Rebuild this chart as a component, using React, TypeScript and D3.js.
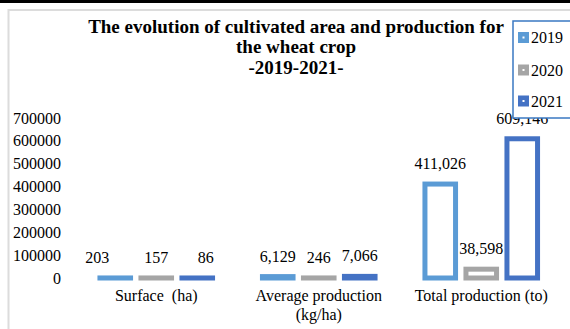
import React from "react";
import * as d3 from "d3";

const categories = ["Surface  (ha)", "Average production (kg/ha)", "Total production (to)"];
const categoryLines: string[][] = [["Surface  (ha)"], ["Average production", "(kg/ha)"], ["Total production (to)"]];
const seriesNames = ["2019", "2020", "2021"];
const values2019 = [203, 6129, 411026];
const values2020 = [157, 246, 38598];
const values2021 = [86, 7066, 609146];
const yTicks = [0, 100000, 200000, 300000, 400000, 500000, 600000, 700000];
const titleLines = ["The evolution of cultivated area and production for", "the wheat crop", "-2019-2021-"];

const colors = ["#5B9BD5", "#A5A5A5", "#4472C4"];
const FONT = "Liberation Serif, Times New Roman, DejaVu Serif, serif";

export default function App() {
  const W = 570, H = 329;
  const seriesValues = [values2019, values2020, values2021];
  const y = d3.scaleLinear().domain([0, 700000]).range([278, 118]);
  const x0 = d3.scaleBand<string>().domain(categories).range([75, 562.5]);
  const bw = x0.bandwidth();
  const x1 = d3.scaleBand<string>().domain(seriesNames).range([bw / 2 - 61.5, bw / 2 + 61.5]);
  const barW = 30.6;
  const fmt = d3.format(",");
  const nudge: Record<string, number> = { "0-0": -18, "0-2": 8.5 };
  const ts = { fontFamily: FONT };

  return (
    <svg width={W} height={H} style={{ position: "absolute", left: 0, top: 0, background: "#fff", fontFamily: FONT }}>
      <rect x={0} y={0} width={W} height={H} fill="#fff" />
      <rect x={0} y={0} width={W} height={3} fill="#000" />
      <rect x={8.5} y={10} width={W} height={H} fill="#fff" stroke="#dcdcdc" strokeWidth={2} />

      {titleLines.map((t, i) => (
        <text key={t} x={296} y={32.5 + i * 20.5} textAnchor="middle" fontSize={19} fontWeight="bold" fill="#000" style={ts}>
          {t}
        </text>
      ))}

      {yTicks.map((t) => (
        <text key={t} x={61} y={y(t)} dy="0.35em" textAnchor="end" fontSize={16} fill="#000" style={ts}>
          {t}
        </text>
      ))}

      {categories.map((c, ci) => (
        <g key={c} transform={`translate(${x0(c)},0)`}>
          {seriesNames.map((s, si) => {
            const v = seriesValues[si][ci];
            const cx = (x1(s) as number) + x1.bandwidth() / 2;
            return (
              <g key={s}>
                <rect x={cx - barW / 2} y={y(v)} width={barW} height={y(0) - y(v)} fill="#fff" stroke={colors[si]} strokeWidth={5} />
                <text x={cx + (nudge[`${ci}-${si}`] || 0)} y={y(v) - 15} textAnchor="middle" fontSize={16} fill="#000" style={ts}>
                  {fmt(v)}
                </text>
              </g>
            );
          })}
          {categoryLines[ci].map((l, li) => (
            <text key={l} x={bw / 2} y={301 + li * 19} textAnchor="middle" fontSize={16} fill="#000" style={{ ...ts, whiteSpace: "pre" }}>
              {l}
            </text>
          ))}
        </g>
      ))}

      <rect x={513} y={21} width={70} height={97} fill="#fff" stroke="#3A78C2" strokeWidth={1.5} />
      {seriesNames.map((s, i) => {
        const cy = [37.5, 70, 101][i];
        return (
          <g key={s}>
            <rect x={518} y={cy - 5.5} width={11} height={11} fill={colors[i]} />
            <rect x={522.5} y={cy - 1} width={2} height={2} fill="#fff" />
            <text x={531} y={cy} dy="0.35em" fontSize={16} fill="#000" style={ts}>
              {s}
            </text>
          </g>
        );
      })}
    </svg>
  );
}
